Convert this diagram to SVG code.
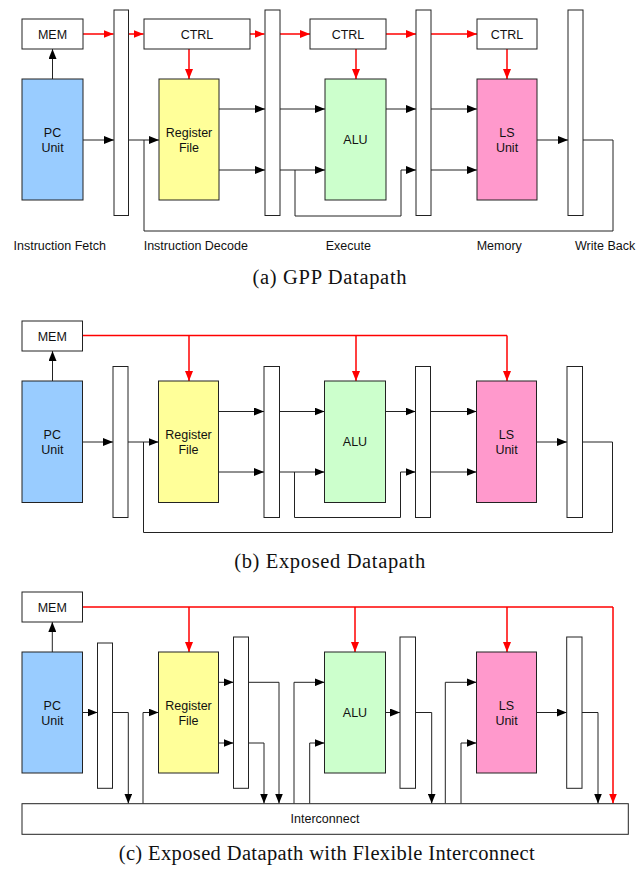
<svg xmlns="http://www.w3.org/2000/svg" width="642" height="869" viewBox="0 0 642 869">
<style>
.box{fill:#fff;stroke:#222;stroke-width:1}
.reg{fill:#fff;stroke:#222;stroke-width:1}
.pc{fill:#99ccff;stroke:#222;stroke-width:1}
.rf{fill:#ffff99;stroke:#222;stroke-width:1}
.alu{fill:#ccffcc;stroke:#222;stroke-width:1}
.ls{fill:#ff99cc;stroke:#222;stroke-width:1}
.t{font-family:"Liberation Sans",Arial,sans-serif;font-size:12.5px;fill:#111;text-anchor:middle}
.lbl{font-family:"Liberation Sans",Arial,sans-serif;font-size:12.5px;fill:#111}
.cap{font-family:"Liberation Serif","Times New Roman",serif;font-size:20.5px;fill:#111;text-anchor:middle}
.k{fill:none;stroke:#222;stroke-width:1}
.ka{fill:none;stroke:#222;stroke-width:1;marker-end:url(#ab)}
.r{fill:none;stroke:#ff0000;stroke-width:1.5}
.ra{fill:none;stroke:#ff0000;stroke-width:1.5;marker-end:url(#ar)}
</style>
<defs>
<marker id="ab" markerUnits="userSpaceOnUse" markerWidth="10" markerHeight="8" viewBox="0 0 10 8" refX="10" refY="4" orient="auto"><path d="M0,0 L10,4 L0,8 z" fill="#000"/></marker>
<marker id="ar" markerUnits="userSpaceOnUse" markerWidth="10" markerHeight="8" viewBox="0 0 10 8" refX="10" refY="4" orient="auto"><path d="M0,0 L10,4 L0,8 z" fill="#ff0000"/></marker>
</defs>

<!-- ===== Panel (a) ===== -->
<g id="a-connectors">
<path class="ra" d="M83,34 H113.5"/>
<path class="ra" d="M128.5,34 H143.5"/>
<path class="ra" d="M250,34 H264.5"/>
<path class="ra" d="M280,34 H310"/>
<path class="ra" d="M386,34 H416"/>
<path class="ra" d="M431,34 H477"/>
<path class="ra" d="M189,49 V79"/>
<path class="ra" d="M356,49 V79"/>
<path class="ra" d="M507,49 V79"/>
<path class="ka" d="M52.5,79 V49"/>
<path class="ka" d="M83,140 H114"/>
<path class="ka" d="M128,140 H159"/>
<path class="k" d="M583,140 H613 V231 H144 V140"/>
<path class="ka" d="M219,109 H265"/>
<path class="ka" d="M219,170 H265"/>
<path class="ka" d="M280,109 H325"/>
<path class="ka" d="M280,170 H325"/>
<path class="ka" d="M295,170 V216 H401 V170 H416"/>
<path class="ka" d="M386,109 H416"/>
<path class="ka" d="M431,109 H477"/>
<path class="ka" d="M431,170 H477"/>
<path class="ka" d="M537,140 H568"/>
</g>
<g id="a-mem"><rect class="box" x="22" y="19" width="61" height="30"/><text class="t" x="52.5" y="38.5">MEM</text></g>
<g id="a-reg1"><rect class="reg" x="114" y="10" width="14.5" height="205.5"/></g>
<g id="a-ctrl1"><rect class="box" x="144" y="19" width="106" height="30"/><text class="t" x="197" y="38.5">CTRL</text></g>
<g id="a-reg2"><rect class="reg" x="265" y="10" width="15" height="205.5"/></g>
<g id="a-ctrl2"><rect class="box" x="310" y="19" width="76" height="30"/><text class="t" x="348" y="38.5">CTRL</text></g>
<g id="a-reg3"><rect class="reg" x="416" y="10" width="15" height="205.5"/></g>
<g id="a-ctrl3"><rect class="box" x="477" y="19" width="60" height="30"/><text class="t" x="507" y="38.5">CTRL</text></g>
<g id="a-reg4"><rect class="reg" x="568" y="10" width="15" height="205.5"/></g>
<g id="a-pc"><rect class="pc" x="22" y="79" width="61" height="121"/><text class="t" x="52.5" y="136.5">PC</text><text class="t" x="52.5" y="151.5">Unit</text></g>
<g id="a-rf"><rect class="rf" x="159" y="79" width="60" height="121"/><text class="t" x="189" y="136.5">Register</text><text class="t" x="189" y="151.5">File</text></g>
<g id="a-alu"><rect class="alu" x="325" y="79" width="61" height="121"/><text class="t" x="355.5" y="144">ALU</text></g>
<g id="a-ls"><rect class="ls" x="477" y="79" width="60" height="121"/><text class="t" x="507" y="136.5">LS</text><text class="t" x="507" y="151.5">Unit</text></g>
<g id="a-labels">
<text class="lbl" x="13.5" y="250">Instruction Fetch</text>
<text class="lbl" x="143.7" y="250">Instruction Decode</text>
<text class="lbl" x="325.7" y="250">Execute</text>
<text class="lbl" x="476.7" y="250">Memory</text>
<text class="lbl" x="575" y="250">Write Back</text>
</g>
<text class="cap" x="329.5" y="284" textLength="154" lengthAdjust="spacing">(a) GPP Datapath</text>

<!-- ===== Panel (b) ===== -->
<g id="b-connectors">
<path class="r" d="M83,335.5 H507"/>
<path class="ra" d="M189,335.5 V381"/>
<path class="ra" d="M356,335.5 V381"/>
<path class="ra" d="M507,335.5 V381"/>
<path class="ka" d="M52.5,381 V351"/>
<path class="ka" d="M83,442 H113"/>
<path class="ka" d="M128,442 H158.5"/>
<path class="k" d="M582.5,442 H612.5 V532.5 H143.5 V442"/>
<path class="ka" d="M218.5,411.5 H264"/>
<path class="ka" d="M218.5,472 H264"/>
<path class="ka" d="M279.5,411.5 H324.5"/>
<path class="ka" d="M279.5,472 H324.5"/>
<path class="ka" d="M294.5,472 V517.5 H400.5 V472 H415.5"/>
<path class="ka" d="M385.5,411.5 H415.5"/>
<path class="ka" d="M430.5,411.5 H476.5"/>
<path class="ka" d="M430.5,472 H476.5"/>
<path class="ka" d="M536.5,442 H567"/>
</g>
<g id="b-mem"><rect class="box" x="22" y="321" width="60.5" height="30"/><text class="t" x="52.3" y="340.5">MEM</text></g>
<g id="b-reg1"><rect class="reg" x="113" y="366.5" width="15" height="151"/></g>
<g id="b-reg2"><rect class="reg" x="264" y="366.5" width="15.5" height="151"/></g>
<g id="b-reg3"><rect class="reg" x="415.5" y="366.5" width="15" height="151"/></g>
<g id="b-reg4"><rect class="reg" x="567" y="366.5" width="15.5" height="151"/></g>
<g id="b-pc"><rect class="pc" x="22" y="381" width="60.5" height="121.5"/><text class="t" x="52.3" y="438.5">PC</text><text class="t" x="52.3" y="453.5">Unit</text></g>
<g id="b-rf"><rect class="rf" x="158.5" y="381" width="60" height="121.5"/><text class="t" x="188.5" y="438.5">Register</text><text class="t" x="188.5" y="453.5">File</text></g>
<g id="b-alu"><rect class="alu" x="324.5" y="381" width="61" height="121.5"/><text class="t" x="355" y="446">ALU</text></g>
<g id="b-ls"><rect class="ls" x="476.5" y="381" width="60" height="121.5"/><text class="t" x="506.5" y="438.5">LS</text><text class="t" x="506.5" y="453.5">Unit</text></g>
<text class="cap" x="329.7" y="567.5" textLength="191" lengthAdjust="spacing">(b) Exposed Datapath</text>

<!-- ===== Panel (c) ===== -->
<g id="c-connectors">
<path class="r" d="M82.5,607 H613"/>
<path class="ra" d="M613,607 V803.5"/>
<path class="ra" d="M189,607 V652"/>
<path class="ra" d="M355,607 V652"/>
<path class="ra" d="M507,607 V652"/>
<path class="ka" d="M52.3,652 V622"/>
<path class="ka" d="M82.5,712.5 H97.5"/>
<path class="ka" d="M112.5,712.5 H128.3 V803.5"/>
<path class="ka" d="M143,803.5 V712.5 H158.5"/>
<path class="ka" d="M218.5,682.3 H233.5"/>
<path class="ka" d="M218.5,743 H233.5"/>
<path class="ka" d="M248.5,682.3 H279 V803.5"/>
<path class="ka" d="M248.5,743 H264 V803.5"/>
<path class="ka" d="M294,803.5 V682.3 H324.5"/>
<path class="ka" d="M309.7,803.5 V743 H324.5"/>
<path class="ka" d="M385.5,712.5 H400"/>
<path class="ka" d="M415.5,712.5 H431.7 V803.5"/>
<path class="ka" d="M445.3,803.5 V682.3 H476.5"/>
<path class="ka" d="M461,803.5 V743 H476.5"/>
<path class="ka" d="M536.5,712.5 H566.7"/>
<path class="ka" d="M582,712.5 H598 V803.5"/>
</g>
<g id="c-mem"><rect class="box" x="22" y="592" width="60.5" height="30"/><text class="t" x="52.3" y="611.5">MEM</text></g>
<g id="c-reg1"><rect class="reg" x="97.5" y="643" width="15" height="145.3"/></g>
<g id="c-reg2"><rect class="reg" x="233.5" y="637" width="15" height="151.3"/></g>
<g id="c-reg3"><rect class="reg" x="400" y="637" width="15.5" height="151.3"/></g>
<g id="c-reg4"><rect class="reg" x="566.7" y="637" width="15.3" height="151.3"/></g>
<g id="c-pc"><rect class="pc" x="22" y="652" width="60.5" height="121"/><text class="t" x="52.3" y="709.5">PC</text><text class="t" x="52.3" y="724.5">Unit</text></g>
<g id="c-rf"><rect class="rf" x="158.5" y="652" width="60" height="121"/><text class="t" x="188.5" y="709.5">Register</text><text class="t" x="188.5" y="724.5">File</text></g>
<g id="c-alu"><rect class="alu" x="324.5" y="652" width="61" height="121"/><text class="t" x="355" y="717">ALU</text></g>
<g id="c-ls"><rect class="ls" x="476.5" y="652" width="60" height="121"/><text class="t" x="506.5" y="709.5">LS</text><text class="t" x="506.5" y="724.5">Unit</text></g>
<g id="c-interconnect"><rect class="box" x="22" y="803.7" width="606.3" height="30.6"/><text class="t" x="325" y="822.5">Interconnect</text></g>
<text class="cap" x="326.7" y="860" textLength="416" lengthAdjust="spacing">(c) Exposed Datapath with Flexible Interconnect</text>
</svg>
